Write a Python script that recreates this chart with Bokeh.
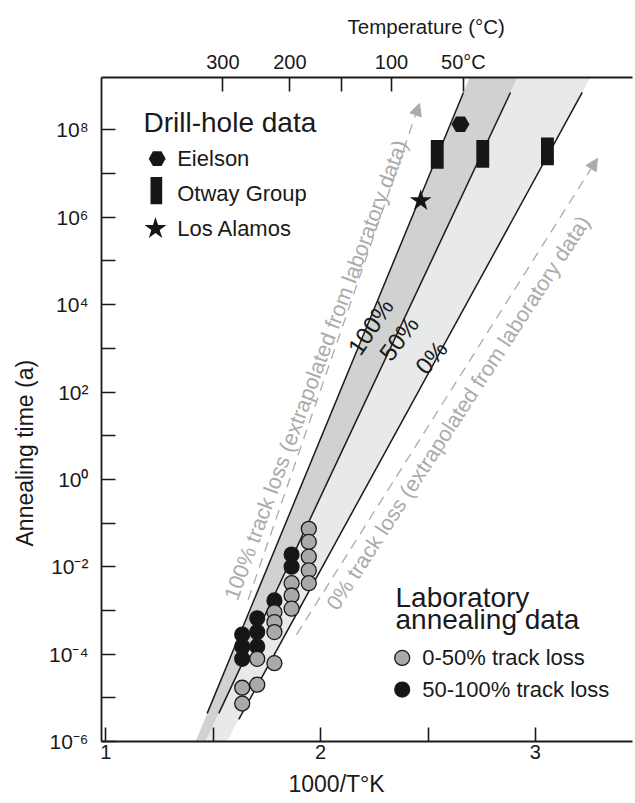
import numpy as np
from bokeh.plotting import figure
from bokeh.models import (Range1d, LinearAxis, LinearScale, FixedTicker, CustomJSTickFormatter,
                          Label, Arrow, NormalHead, Title)
from bokeh.embed import file_html
from bokeh.resources import INLINE

FONT = "Liberation Sans"
INK = "#1a1a1a"
GRAY_TXT = "#ababab"

# ---------------- data ----------------
x_ticks = [1.0, 1.5, 2.0, 2.5, 3.0]
x_tick_labels = ["1", "", "2", "", "3"]
y_ticks = [1e-6, 1e-5, 1e-4, 1e-3, 1e-2, 1e-1, 1e0, 1e1, 1e2, 1e3, 1e4, 1e5, 1e6, 1e7, 1e8]
y_tick_labels = ["10⁻⁶", "", "10⁻⁴", "", "10⁻²", "", "10⁰", "", "10²", "", "10⁴", "", "10⁶", "", "10⁸"]
temp_tick_x = [1.545, 1.857, 2.098, 2.330, 2.665]
temp_tick_labels = ["300", "200", "", "100", "50°C"]

# laboratory annealing data (1000/T, annealing time in years)
lab_low_x = [1.945, 1.945, 1.945, 1.945, 1.945, 1.865, 1.865, 1.865,
             1.785, 1.785, 1.785, 1.705, 1.785, 1.705, 1.635, 1.635]
lab_low_y = [7.4e-2, 3.7e-2, 1.7e-2, 8.3e-3, 4.2e-3, 4.2e-3, 2.2e-3, 1.1e-3,
             9.1e-4, 5.4e-4, 3.2e-4, 7.8e-5, 6.2e-5, 2.0e-5, 1.7e-5, 7.4e-6]
lab_high_x = [1.865, 1.865, 1.785, 1.705, 1.705, 1.705, 1.635, 1.635, 1.635]
lab_high_y = [1.9e-2, 1.0e-2, 1.7e-3, 6.6e-4, 3.2e-4, 1.5e-4, 2.8e-4, 1.5e-4, 7.8e-5]

# drill-hole data
eielson_x = [2.651]
eielson_y = [1.35e8]
otway_x = [2.543, 2.755, 3.056]
otway_low = [1.29e7, 1.36e7, 1.56e7]
otway_high = [5.9e7, 5.9e7, 6.7e7]
los_alamos_x = [2.466]
los_alamos_y = [2.4e6]

# track-loss lines (two end points each)
loss100_x = [1.472, 2.665]
loss100_y = [4.4e-6, 7.2e8]
loss50_x = [1.526, 2.884]
loss50_y = [4.4e-6, 7.2e8]
loss0_x = [1.619, 3.218]
loss0_y = [3.2e-6, 7.2e8]

# ---------------- figure ----------------
X0, X1 = 0.98, 3.452
Y0, Y1 = 1e-6, 10 ** 9.2

p = figure(width=635, height=803, x_range=Range1d(X0, X1), y_range=Range1d(Y0, Y1),
           y_axis_type="log", output_backend="svg", toolbar_location=None, title=None,
           min_border_left=101, min_border_right=3, min_border_top=77, min_border_bottom=61)
p.outline_line_color = None
p.grid.visible = False
p.background_fill_color = "white"
p.border_fill_color = "white"
# canvas-pixel helper ranges for annotations inside the frame
p.extra_x_ranges = {"cx": Range1d(101, 632)}
p.extra_y_ranges = {"cy": Range1d(742, 77)}
p.extra_x_scales = {"cx": LinearScale()}
p.extra_y_scales = {"cy": LinearScale()}

lin_code = """
let best = 0, bd = Infinity;
for (let i = 0; i < tv.length; i++) { const d = Math.abs(tv[i] - tick); if (d < bd) { bd = d; best = i; } }
return tl[best];
"""
log_code = """
let best = 0, bd = Infinity;
for (let i = 0; i < tv.length; i++) { const d = Math.abs(Math.log(tv[i]) - Math.log(tick)); if (d < bd) { bd = d; best = i; } }
return tl[best];
"""


def style_axis(ax, size="20px", standoff=4):
    ax.axis_line_width = 1.8
    ax.axis_line_color = INK
    ax.major_tick_line_width = 1.6
    ax.major_tick_line_color = INK
    ax.major_tick_in = 14
    ax.major_tick_out = 0
    ax.minor_tick_line_color = None
    ax.major_label_text_font = FONT
    ax.major_label_text_font_size = size
    ax.major_label_text_color = INK
    ax.major_label_standoff = standoff


xa = p.xaxis[0]
xa.ticker = FixedTicker(ticks=x_ticks)
xa.formatter = CustomJSTickFormatter(args=dict(tv=x_ticks, tl=x_tick_labels), code=lin_code)
style_axis(xa, "20px", 3)

ya = p.yaxis[0]
ya.ticker = FixedTicker(ticks=y_ticks)
ya.formatter = CustomJSTickFormatter(args=dict(tv=y_ticks, tl=y_tick_labels), code=log_code)
style_axis(ya, "21px", 13)
ya.major_label_text_baseline = "alphabetic"

top = LinearAxis(ticker=FixedTicker(ticks=temp_tick_x),
                 formatter=CustomJSTickFormatter(args=dict(tv=temp_tick_x, tl=temp_tick_labels), code=lin_code))
style_axis(top, "20px", 5)
p.add_layout(top, "above")

# axis titles (outside the frame)
p.add_layout(Title(text="Temperature (°C)", align="left", offset=246, text_font=FONT,
                   text_font_size="20.5px", text_font_style="normal", text_color=INK, standoff=19), "above")
p.add_layout(Title(text="1000/T°K", align="left", offset=187, text_font=FONT,
                   text_font_size="23px", text_font_style="normal", text_color=INK, standoff=14), "below")
p.add_layout(Title(text="Annealing time (a)", align="left", offset=195, text_font=FONT,
                   text_font_size="23px", text_font_style="normal", text_color=INK, standoff=17), "left")


# ---------------- bands ----------------
def x_on(lx, ly, yv):
    a0, a1 = np.log10(ly[0]), np.log10(ly[1])
    return lx[0] + (np.log10(yv) - a0) * (lx[1] - lx[0]) / (a1 - a0)


band_y = [Y0, Y0, Y1, Y1]
dark_x = [x_on(loss100_x, loss100_y, Y0), x_on(loss50_x, loss50_y, Y0),
          x_on(loss50_x, loss50_y, Y1), x_on(loss100_x, loss100_y, Y1)]
light_x = [x_on(loss50_x, loss50_y, Y0), x_on(loss0_x, loss0_y, Y0),
           x_on(loss0_x, loss0_y, Y1), x_on(loss50_x, loss50_y, Y1)]
p.patch(dark_x, band_y, fill_color="#d0d1d1", line_color=None)
p.patch(light_x, band_y, fill_color="#e8e9e9", line_color=None)

for lx, ly in [(loss100_x, loss100_y), (loss50_x, loss50_y), (loss0_x, loss0_y)]:
    p.line(lx, ly, line_color=INK, line_width=1.5)

# ---------------- points ----------------
p.scatter(lab_high_x, lab_high_y, size=15, fill_color="#161616", line_color=INK, line_width=1.2)
p.scatter(lab_low_x, lab_low_y, size=15, fill_color="#a9a9a9", line_color=INK, line_width=1.3)

p.scatter(eielson_x, eielson_y, marker="hex", size=18, fill_color="#161616", line_color=None)
p.vbar(x=otway_x, width=0.06, bottom=otway_low, top=otway_high, fill_color="#161616", line_color=None)
p.scatter(los_alamos_x, los_alamos_y, marker="star", size=23, fill_color="#161616", line_color=None)


# ---------------- annotations (canvas px coords) ----------------
def label(text, x, y, size, align="left", baseline="middle", angle=0.0, color=INK):
    p.add_layout(Label(x=x, y=y, x_range_name="cx", y_range_name="cy", text=text,
                       text_font=FONT, text_font_size=size, text_align=align,
                       text_baseline=baseline, angle=angle, text_color=color))


# drill-hole legend
label("Drill-hole data", 143, 121.7, "28px")
p.scatter([156.7], [158.3], x_range_name="cx", y_range_name="cy", marker="hex", size=17,
          fill_color="#161616", line_color=None)
label("Eielson", 176.7, 158.3, "22px")
p.quad(left=[150], right=[161.7], top=[176.7], bottom=[204], x_range_name="cx", y_range_name="cy",
       fill_color="#161616", line_color=None)
label("Otway Group", 176.7, 193.3, "22px")
p.scatter([155], [228.3], x_range_name="cx", y_range_name="cy", marker="star", size=23,
          fill_color="#161616", line_color=None)
label("Los Alamos", 176.7, 228.3, "22px")

# laboratory legend
label("Laboratory", 395, 598, "28px")
label("annealing data", 395, 620, "28px")
p.scatter([401.7], [658.3], x_range_name="cx", y_range_name="cy", size=15,
          fill_color="#a9a9a9", line_color=INK, line_width=1.3)
label("0-50% track loss", 421.7, 658.3, "22px")
p.scatter([401.7], [690], x_range_name="cx", y_range_name="cy", size=15,
          fill_color="#161616", line_color=INK, line_width=1.2)
label("50-100% track loss", 421.7, 690, "22px")

# line labels
label("100%", 370, 326.7, "24px", align="center", angle=np.deg2rad(56))
label("50%", 398.3, 338.3, "24px", align="center", angle=np.deg2rad(53))
label("0%", 430.7, 357.3, "24px", align="center", angle=np.deg2rad(50))

# extrapolated labels and arrows
label("100% track loss (extrapolated from laboratory data)", 315.5, 370, "21.5px",
      align="center", angle=np.deg2rad(69.6), color=GRAY_TXT)
label("0% track loss (extrapolated from laboratory data)", 458, 413, "21.5px",
      align="center", angle=np.deg2rad(57), color=GRAY_TXT)

for xs, ys, xe, ye in [(247.6, 600, 419, 103), (296, 635, 597, 158)]:
    p.add_layout(Arrow(x_start=xs, y_start=ys, x_end=xe, y_end=ye, x_range_name="cx", y_range_name="cy",
                       line_color=GRAY_TXT, line_width=1.3, line_dash="10 7",
                       end=NormalHead(size=12, fill_color=GRAY_TXT, line_color=GRAY_TXT, line_width=1)))

open("out.html", "w").write(file_html(p, INLINE))
